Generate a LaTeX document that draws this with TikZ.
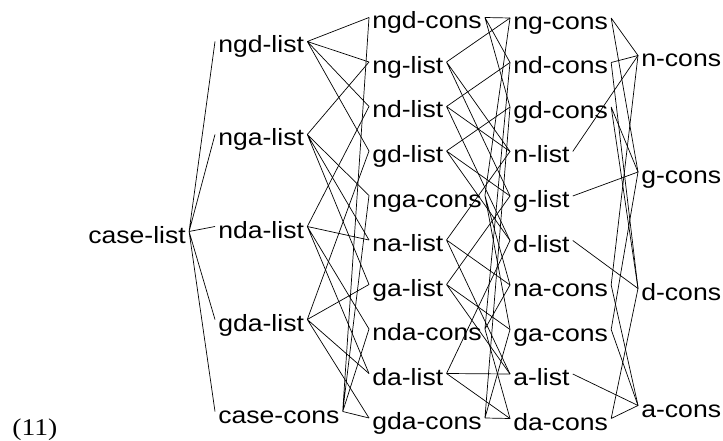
\documentclass[tikz,border=0pt]{standalone}
\usepackage{fontspec}
\setmainfont{Liberation Sans}[FakeStretch=1.13]
\newfontfamily\exnumfont{Liberation Serif}[FakeStretch=1.15]
\usepackage{tikz}

\begin{document}
\begin{tikzpicture}[x=1pt,y=-1pt,line width=0.7pt,
    typ/.style={anchor=base west,inner xsep=3pt,inner ysep=0pt,
        text height=23pt,text depth=0pt,font=\fontsize{23.5}{26}\selectfont}]
    \useasboundingbox (0,0) rectangle (723,441);

    % column 0
    \node[typ] (caselist) at (85,243) {case-list};
    % column 1
    \node[typ] (ngdlist) at (215,53) {ngd-list};
    \node[typ] (ngalist) at (215,146) {nga-list};
    \node[typ] (ndalist) at (215,238) {nda-list};
    \node[typ] (gdalist) at (215,331) {gda-list};
    \node[typ] (casecons) at (215,423) {case-cons};
    % column 2
    \node[typ] (ngdcons) at (369,29) {ngd-cons};
    \node[typ] (nglist) at (369,73.5) {ng-list};
    \node[typ] (ndlist) at (369,118) {nd-list};
    \node[typ] (gdlist) at (369,162.5) {gd-list};
    \node[typ] (ngacons) at (369,207) {nga-cons};
    \node[typ] (nalist) at (369,251.5) {na-list};
    \node[typ] (galist) at (369,296) {ga-list};
    \node[typ] (ndacons) at (369,340.5) {nda-cons};
    \node[typ] (dalist) at (369,385) {da-list};
    \node[typ] (gdacons) at (369,429.5) {gda-cons};
    % column 3
    \node[typ] (ngcons) at (510,29.5) {ng-cons};
    \node[typ] (ndcons) at (510,74) {nd-cons};
    \node[typ] (gdcons) at (510,118.5) {gd-cons};
    \node[typ] (nlist) at (510,163) {n-list};
    \node[typ] (glist) at (510,207.5) {g-list};
    \node[typ] (dlist) at (510,252) {d-list};
    \node[typ] (nacons) at (510,296.5) {na-cons};
    \node[typ] (gacons) at (510,341) {ga-cons};
    \node[typ] (alist) at (510,385.5) {a-list};
    \node[typ] (dacons) at (510,430) {da-cons};
    % column 4
    \node[typ] (ncons) at (638,67) {n-cons};
    \node[typ] (gcons) at (638,183.5) {g-cons};
    \node[typ] (dcons) at (638,300) {d-cons};
    \node[typ] (acons) at (638,417) {a-cons};

    \node[anchor=base west,inner sep=0pt,font=\exnumfont\fontsize{24}{26}\selectfont] (exnum) at (12,435) {(11)};

    % case-list
    \draw (caselist.east) -- (ngdlist.west) (caselist.east) -- (ngalist.west)
          (caselist.east) -- (ndalist.west) (caselist.east) -- (gdalist.west)
          (caselist.east) -- (casecons.west);

    % column 1 -> column 2
    \draw (ngdlist.east) -- (ngdcons.west) (ngdlist.east) -- (nglist.west)
          (ngdlist.east) -- (ndlist.west) (ngdlist.east) -- (gdlist.west);
    \draw (ngalist.east) -- (ngacons.west) (ngalist.east) -- (nglist.west)
          (ngalist.east) -- (nalist.west) (ngalist.east) -- (galist.west);
    \draw (ndalist.east) -- (ndacons.west) (ndalist.east) -- (ndlist.west)
          (ndalist.east) -- (nalist.west) (ndalist.east) -- (dalist.west);
    \draw (gdalist.east) -- (gdacons.west) (gdalist.east) -- (gdlist.west)
          (gdalist.east) -- (galist.west) (gdalist.east) -- (dalist.west);
    \draw (casecons.east) -- (ngdcons.west) (casecons.east) -- (ngacons.west)
          (casecons.east) -- (ndacons.west) (casecons.east) -- (gdacons.west);

    % column 2 -> column 3
    \draw (ngdcons.east) -- (ngcons.west) (ngdcons.east) -- (ndcons.west) (ngdcons.east) -- (gdcons.west);
    \draw (nglist.east) -- (ngcons.west) (nglist.east) -- (nlist.west) (nglist.east) -- (glist.west);
    \draw (ndlist.east) -- (ndcons.west) (ndlist.east) -- (nlist.west) (ndlist.east) -- (dlist.west);
    \draw (gdlist.east) -- (gdcons.west) (gdlist.east) -- (glist.west) (gdlist.east) -- (dlist.west);
    \draw (ngacons.east) -- (ngcons.west) (ngacons.east) -- (nacons.west) (ngacons.east) -- (gacons.west);
    \draw (nalist.east) -- (nacons.west) (nalist.east) -- (nlist.west) (nalist.east) -- (alist.west);
    \draw (galist.east) -- (gacons.west) (galist.east) -- (glist.west) (galist.east) -- (alist.west);
    \draw (ndacons.east) -- (ndcons.west) (ndacons.east) -- (nacons.west) (ndacons.east) -- (dacons.west);
    \draw (dalist.east) -- (dacons.west) (dalist.east) -- (dlist.west) (dalist.east) -- (alist.west);
    \draw (gdacons.east) -- (gdcons.west) (gdacons.east) -- (gacons.west) (gdacons.east) -- (dacons.west);

    % column 3 -> column 4
    \draw (ngcons.east) -- (ncons.west) (ngcons.east) -- (gcons.west);
    \draw (ndcons.east) -- (ncons.west) (ndcons.east) -- (dcons.west);
    \draw (gdcons.east) -- (gcons.west) (gdcons.east) -- (dcons.west);
    \draw (nlist.east) -- (ncons.west);
    \draw (glist.east) -- (gcons.west);
    \draw (dlist.east) -- (dcons.west);
    \draw (nacons.east) -- (ncons.west) (nacons.east) -- (acons.west);
    \draw (gacons.east) -- (gcons.west) (gacons.east) -- (acons.west);
    \draw (alist.east) -- (acons.west);
    \draw (dacons.east) -- (dcons.west) (dacons.east) -- (acons.west);
\end{tikzpicture}
\end{document}
